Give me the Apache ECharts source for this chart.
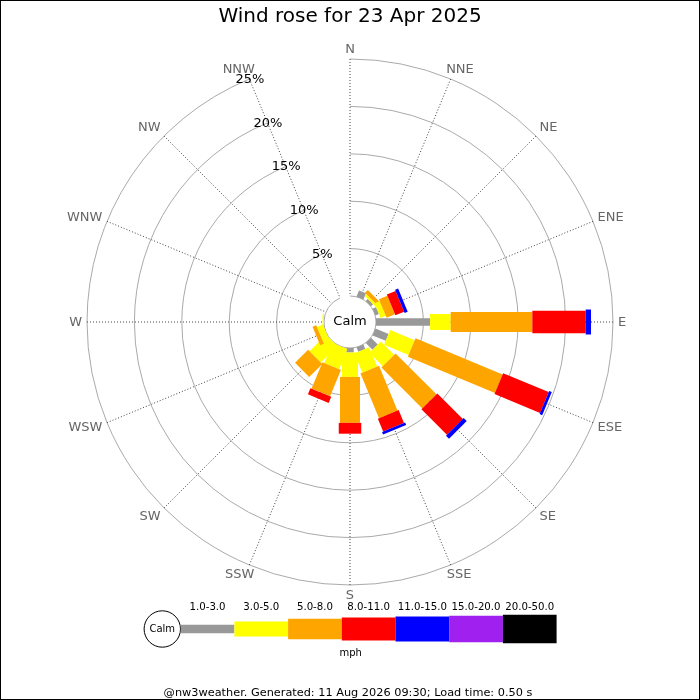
<!DOCTYPE html>
<html><head><meta charset="utf-8">
<script src="https://cdn.jsdelivr.net/npm/echarts@6/dist/echarts.min.js"></script>
<style>html,body{margin:0;padding:0;background:#fff}#chart{width:700px;height:700px}</style>
</head><body><div id="chart"></div>
<script>
// ---------- data ----------
const titleText = 'Wind rose for 23 Apr 2025';
const footerText = '@nw3weather. Generated: 11 Aug 2026 09:30; Load time: 0.50 s';
const calmLabel = 'Calm';
const unitLabel = 'mph';
const directions = ['N','NNE','NE','ENE','E','ESE','SE','SSE','S','SSW','SW','WSW','W','WNW','NW','NNW'];
const speedBands = ['1.0-3.0','3.0-5.0','5.0-8.0','8.0-11.0','11.0-15.0','15.0-20.0','20.0-50.0'];
// percentage of time per direction for each speed band (mph)
const speed1to3   = [0, 0.7, 0.3, 0.4, 5.7, 1.5, 1.0, 0.5, 0.47, 0, 0, 0, 0, 0, 0, 0];
const speed3to5   = [0, 0, 0.25, 0.6, 2.18, 2.8, 2.0, 2.2, 2.58, 2.3, 2.45, 0.68, 0.15, 0, 0, 0];
const speed5to8   = [0, 0, 0.42, 0.95, 8.61, 9.95, 6.1, 5.1, 4.85, 3.0, 1.95, 0.42, 0, 0, 0, 0];
const speed8to11  = [0, 0, 0, 1.0, 5.63, 5.2, 3.8, 1.47, 1.14, 0.7, 0, 0, 0, 0, 0, 0];
const speed11to15 = [0, 0, 0, 0.35, 0.56, 0.3, 0.45, 0.28, 0, 0, 0, 0, 0, 0, 0, 0];
const speed15to20 = [0, 0, 0, 0, 0, 0, 0, 0, 0, 0, 0, 0, 0, 0, 0, 0];
const speed20to50 = [0, 0, 0, 0, 0, 0, 0, 0, 0, 0, 0, 0, 0, 0, 0, 0];
const ringTicks  = [5, 10, 15, 20, 25];
const ringLabels = ['5%', '10%', '15%', '20%', '25%'];

// ---------- styles ----------
const bandSeries = [speed1to3, speed3to5, speed5to8, speed8to11, speed11to15, speed15to20, speed20to50];
const bandColors = ['#999999', '#ffff00', '#ffa500', '#ff0000', '#0000ff', '#a020f0', '#000000'];
const bandWidths = [7.5, 16, 20, 22.5, 25, 27, 28.5];
const FONT = "'DejaVu Sans', 'Liberation Sans', sans-serif";

// stacked segments built from the arrays
const segData = [];
directions.forEach((d, i) => {
  let acc = 0;
  bandSeries.forEach((arr, b) => {
    const v = arr[i];
    if (v > 0) { segData.push([acc, i, acc + v, b]); }
    acc += v;
  });
});

const measureCtx = document.createElement('canvas').getContext('2d');
function textWidth(t, size) { measureCtx.font = size + 'px ' + FONT; return measureCtx.measureText(t).width; }

function axisDir(api, i) {
  const a = api.coord([0, i]), b = api.coord([25, i]);
  let ux = b[0] - a[0], uy = b[1] - a[1];
  const L = Math.hypot(ux, uy);
  return { ux: ux / L, uy: uy / L, b };
}

function renderBar(params, api) {
  const start = api.value(0), dir = api.value(1), end = api.value(2), band = api.value(3);
  const { ux, uy } = axisDir(api, dir);
  const nx = -uy, ny = ux;
  const p0 = api.coord([start, dir]), p1 = api.coord([end, dir]);
  const h = bandWidths[band] / 2;
  return {
    type: 'polygon',
    shape: { points: [
      [p0[0] + nx * h, p0[1] + ny * h], [p1[0] + nx * h, p1[1] + ny * h],
      [p1[0] - nx * h, p1[1] - ny * h], [p0[0] - nx * h, p0[1] - ny * h]
    ] },
    style: { fill: bandColors[band] }
  };
}

function renderRingLabel(params, api) {
  const v = api.value(0), dir = api.value(1), idx = api.value(2);
  const p = api.coord([v, dir]);
  return { type: 'text', x: p[0] + 0.5, y: p[1] + 0.5,
    style: { text: ringLabels[idx], fill: '#000', font: '13px ' + FONT,
      align: 'center', verticalAlign: 'middle', textAlign: 'center', textVerticalAlign: 'middle' } };
}

function g(t) { return Math.min(1, 1.4 * t); }
function renderDirLabel(params, api) {
  const i = api.value(1);
  const { ux, uy, b } = axisDir(api, i);
  const t = directions[i];
  const w = textWidth(t, 13);
  const m = 5;
  const x = b[0] + ux * m + Math.sign(ux) * (w / 2) * g(Math.abs(ux));
  const y = b[1] + uy * m + Math.sign(uy) * 5 * g(Math.abs(uy));
  return { type: 'text', x: x, y: y + 0.5,
    style: { text: t, fill: '#666', font: '13px ' + FONT,
      align: 'center', verticalAlign: 'middle', textAlign: 'center', textVerticalAlign: 'middle' } };
}

// ---------- legend graphics ----------
const legendY = 629, legendX0 = 180.7, legendSegW = 53.7;
const legendHeights = [8.3, 15, 20.3, 23, 25, 26.7, 28.3];
const graphics = [
  { type: 'rect', shape: { x: 0, y: 0, width: 700, height: 700 }, style: { fill: 'none', stroke: '#000', lineWidth: 2 }, z: 100 },
  { type: 'text', x: 350, y: 322, style: { text: calmLabel, fill: '#000', font: '13px ' + FONT, align: 'center', verticalAlign: 'middle', textAlign: 'center', textVerticalAlign: 'middle' }, z: 50 },
  { type: 'circle', shape: { cx: 162.3, cy: legendY, r: 18.2 }, style: { fill: '#fff', stroke: '#000', lineWidth: 1 } },
  { type: 'text', x: 162.3, y: legendY, style: { text: calmLabel, fill: '#000', font: '10px ' + FONT, align: 'center', verticalAlign: 'middle', textAlign: 'center', textVerticalAlign: 'middle' } },
  { type: 'text', x: 350.7, y: 653.5, style: { text: unitLabel, fill: '#000', font: '10px ' + FONT, align: 'center', verticalAlign: 'middle', textAlign: 'center', textVerticalAlign: 'middle' } },
  { type: 'text', x: 348, y: 693, style: { text: footerText, fill: '#000', font: '11.3px ' + FONT, align: 'center', verticalAlign: 'middle', textAlign: 'center', textVerticalAlign: 'middle' } }
];
speedBands.forEach((lab, k) => {
  const x = legendX0 + k * legendSegW;
  const h = legendHeights[k];
  graphics.push({ type: 'rect', shape: { x: x, y: legendY - h / 2, width: legendSegW, height: h }, style: { fill: bandColors[k] } });
  graphics.push({ type: 'text', x: x + legendSegW / 2, y: 607, style: { text: lab, fill: '#000', font: '10.2px ' + FONT, align: 'center', verticalAlign: 'middle', textAlign: 'center', textVerticalAlign: 'middle' } });
});

const chart = echarts.init(document.getElementById('chart'), null, { renderer: 'canvas' });
chart.setOption({
  animation: false,
  backgroundColor: '#fff',
  title: { text: titleText, left: 'center', top: 7, padding: 0,
    textStyle: { fontSize: 20, fontWeight: 'normal', color: '#000', fontFamily: FONT } },
  polar: { center: [350, 322], radius: [26, 263] },
  angleAxis: {
    type: 'category', data: directions, boundaryGap: false, startAngle: 90, clockwise: true,
    axisLine: { show: false },
    axisTick: { show: false }, axisLabel: { show: false },
    splitLine: { show: true, lineStyle: { color: '#444', width: 1, type: [1, 2] } }
  },
  radiusAxis: {
    type: 'value', min: 0, max: 25, interval: 5,
    axisLine: { show: false }, axisTick: { show: false }, axisLabel: { show: false },
    splitLine: { show: true, lineStyle: { color: '#aaaaaa', width: 1 } }
  },
  series: [
    { type: 'custom', coordinateSystem: 'polar', renderItem: renderBar, data: segData,
      encode: { radius: 0, angle: 1 }, z: 3, silent: true },
    { type: 'custom', coordinateSystem: 'polar', renderItem: renderRingLabel,
      data: ringTicks.map((v, k) => [v, 15, k]), encode: { radius: 0, angle: 1 }, z: 4, silent: true },
    { type: 'custom', coordinateSystem: 'polar', renderItem: renderDirLabel,
      data: directions.map((d, i) => [25, i]), encode: { radius: 0, angle: 1 }, z: 4, silent: true }
  ],
  graphic: graphics
});
</script></body></html>
